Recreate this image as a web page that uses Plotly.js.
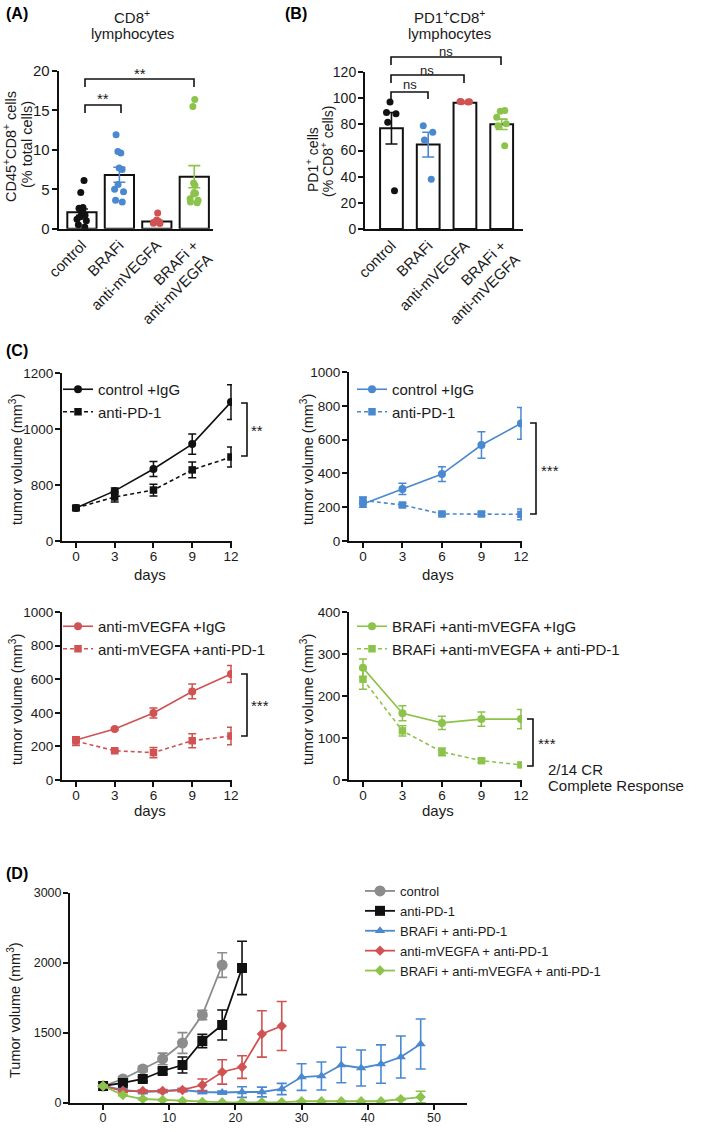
<!DOCTYPE html>
<html>
<head>
<meta charset="utf-8">
<script src="https://cdn.plot.ly/plotly-3.0.1.min.js"></script>
<style>html,body{margin:0;padding:0;background:#fff;}#chart{width:709px;height:1132px;}</style>
</head>
<body>
<div id="chart"></div>
<script>
// ---------------- DATA ----------------
// Panels A & B (bar = mean, error = SEM, dots = individual mice)
const catsAB = ['control', 'BRAFi', 'anti-mVEGFA', 'BRAFi +<br>anti-mVEGFA'];
const aMean  = [2.1, 6.8, 0.9, 6.6];
const aErrUp = [0.4, 1.0, 0.15, 1.4];
const aErrDn = [0.4, 0.9, 0.15, 1.4];
const aCtrl  = [6.1, 4.6, 2.7, 2.6, 2.3, 2.1, 1.9, 1.7, 1.5, 1.2, 1.0, 0.5, 0.2];
const aBRAFi = [11.9, 9.8, 9.6, 7.7, 7.5, 5.6, 5.0, 4.7, 3.6, 3.4];
const aVEGF  = [2.0, 1.1, 0.95, 0.9, 0.8, 0.8, 0.7, 0.65];
const aCombo = [16.4, 15.5, 5.8, 5.5, 4.6, 4.5, 4.4, 3.8, 3.6, 3.4, 3.3];

const bMean  = [77, 64.5, 96.5, 80];
const bErr   = [12, 9.5, 0.6, 4];
const bCtrl  = [97, 89, 88, 81.5, 29.3];
const bBRAFi = [79, 74, 68, 38];
const bVEGF  = [97.5, 97.3, 97.2, 97];
const bCombo = [90.5, 90, 85.5, 80.5, 79, 63.7];

// Panel C (tumor volume, mm3) ; top-left uses a broken axis (ticks 0 | 800 1000 1200)
const cDays = [0, 3, 6, 9, 12];
const c1IgG = [718, 779, 857, 946, 1096];  const c1IgGErr = [6, 10, 27, 36, 62];
const c1PD1 = [718, 757, 782, 854, 900];   const c1PD1Err = [6, 18, 21, 28, 36];
const c2IgG = [219, 308, 396, 568, 696];   const c2IgGErr = [20, 33, 44, 79, 94];
const c2PD1 = [240, 213, 160, 160, 158];   const c2PD1Err = [20, 10, 8, 10, 32];
const c3IgG = [238, 303, 399, 527, 631];   const c3IgGErr = [12, 6, 30, 44, 51];
const c3PD1 = [232, 174, 163, 234, 262];   const c3PD1Err = [26, 8, 30, 42, 52];
const c4IgG = [267, 159, 136, 145, 145];   const c4IgGErr = [21, 18, 16, 17, 23];
const c4PD1 = [240, 117, 67, 46, 36];      const c4PD1Err = [24, 12, 9, 4, 3];
const c1Ticks = ['0', '800', '1000', '1200'];

// Panel D (broken y axis: ticks 0 | 1500 2000 3000 equally spaced)
const dTickText = ['0', '1500', '2000', '3000'];
const dCtrlDays = [0, 3, 6, 9, 12, 15, 18];
const dCtrl     = [243, 343, 486, 629, 857, 1257, 1971];
const dCtrlErr  = [20, 30, 40, 83, 148, 67, 176];
const dPD1Days  = [0, 3, 6, 9, 12, 15, 18, 21];
const dPD1      = [243, 286, 343, 457, 543, 886, 1114, 1929];
const dPD1Err   = [20, 30, 30, 40, 114, 95, 214, 381];
const dBrafDays = [0, 3, 6, 9, 12, 15, 18, 21, 24, 27, 30, 33, 36, 39, 42, 45, 48];
const dBraf     = [243, 186, 157, 171, 186, 157, 150, 157, 157, 200, 371, 386, 543, 500, 557, 657, 843];
const dBrafErr  = [15, 20, 20, 20, 20, 20, 20, 76, 70, 80, 190, 200, 254, 257, 274, 300, 357];
const dVegfDays = [0, 3, 6, 9, 12, 15, 18, 21, 24, 27];
const dVegf     = [243, 171, 171, 171, 186, 257, 443, 514, 986, 1100];
const dVegfErr  = [15, 15, 15, 15, 20, 86, 174, 162, 331, 350];
const dComboDays= [0, 3, 6, 9, 12, 15, 18, 21, 24, 27, 30, 33, 36, 39, 42, 45, 48];
const dCombo    = [243, 114, 57, 43, 29, 14, 10, 10, 10, 10, 25, 25, 25, 25, 25, 55, 85];
const dComboErr = [15, 10, 10, 8, 5, 5, 5, 5, 5, 5, 5, 5, 5, 5, 5, 10, 83];

// ---------------- STYLE ----------------
const W = 709, H = 1132;
const FONT = 'Liberation Sans, Arial, sans-serif';
const TXT = '#1a1a1a';
const BLACK = '#111111', BLUE = '#4a88cf', RED = '#d05252', GREEN = '#8cc34a', GREY = '#8c8c8c';
const px = v => v / W;
const py = v => 1 - v / H;

const traces = [];

// ---- A & B ----
function barPanel(means, up, dn, groups, xa, ya, width) {
  const cols = [BLACK, BLUE, RED, GREEN];
  means.forEach((m, i) => {
    traces.push({
      type: 'bar', x: [catsAB[i]], y: [m], xaxis: xa, yaxis: ya, width: width, showlegend: false,
      marker: {color: 'white', line: {color: BLACK, width: 2}},
      error_y: {type: 'data', symmetric: false, array: [up[i]], arrayminus: [dn[i]],
                color: cols[i], thickness: 1.6, width: 6}
    });
  });
  groups.forEach((g, i) => {
    traces.push({
      type: 'box', x: g.map(() => catsAB[i]), y: g, xaxis: xa, yaxis: ya, showlegend: false,
      boxpoints: 'all', jitter: 0.65, pointpos: 0,
      fillcolor: 'rgba(0,0,0,0)', line: {width: 0, color: 'rgba(0,0,0,0)'},
      marker: {color: cols[i], size: 7}
    });
  });
}
barPanel(aMean, aErrUp, aErrDn, [aCtrl, aBRAFi, aVEGF, aCombo], 'x', 'y', 0.78);
barPanel(bMean, bErr, bErr, [bCtrl, bBRAFi, bVEGF, bCombo], 'x2', 'y2', 0.62);

// ---- C ----
function cTrace(x, y, err, color, symbol, dash, name, xa, ya, leg, msize) {
  return {
    type: 'scatter', mode: 'lines+markers', x: x, y: y, name: name, xaxis: xa, yaxis: ya, legend: leg,
    line: {color: color, width: 1.6, dash: dash},
    marker: {color: color, symbol: symbol, size: msize},
    error_y: {type: 'data', array: err, visible: true, color: color, thickness: 1.5, width: 4}
  };
}
traces.push(cTrace(cDays, c1IgG, c1IgGErr, BLACK, 'circle', 'solid', 'control +IgG', 'x3', 'y3', 'legend', 8));
traces.push(cTrace(cDays, c1PD1, c1PD1Err, BLACK, 'square', '4px,3px', 'anti-PD-1', 'x3', 'y3', 'legend', 7.5));
traces.push(cTrace(cDays, c2IgG, c2IgGErr, BLUE, 'circle', 'solid', 'control +IgG', 'x4', 'y4', 'legend2', 8));
traces.push(cTrace(cDays, c2PD1, c2PD1Err, BLUE, 'square', '4px,3px', 'anti-PD-1', 'x4', 'y4', 'legend2', 7.5));
traces.push(cTrace(cDays, c3IgG, c3IgGErr, RED, 'circle', 'solid', 'anti-mVEGFA +IgG', 'x5', 'y5', 'legend3', 8));
traces.push(cTrace(cDays, c3PD1, c3PD1Err, RED, 'square', '4px,3px', 'anti-mVEGFA +anti-PD-1', 'x5', 'y5', 'legend3', 7.5));
traces.push(cTrace(cDays, c4IgG, c4IgGErr, GREEN, 'circle', 'solid', 'BRAFi +anti-mVEGFA +IgG', 'x6', 'y6', 'legend4', 8));
traces.push(cTrace(cDays, c4PD1, c4PD1Err, GREEN, 'square', '4px,3px', 'BRAFi +anti-mVEGFA + anti-PD-1', 'x6', 'y6', 'legend4', 7.5));

// ---- D ----
function dTrace(x, y, err, color, symbol, size, name) {
  return {
    type: 'scatter', mode: 'lines+markers', x: x, y: y, name: name, xaxis: 'x7', yaxis: 'y7', legend: 'legend5',
    line: {color: color, width: 1.8}, marker: {color: color, symbol: symbol, size: size},
    error_y: {type: 'data', array: err, visible: true, color: color, thickness: 1.6, width: 5}
  };
}
traces.push(dTrace(dCtrlDays, dCtrl, dCtrlErr, GREY, 'circle', 11, 'control'));
traces.push(dTrace(dPD1Days, dPD1, dPD1Err, BLACK, 'square', 10, 'anti-PD-1'));
traces.push(dTrace(dBrafDays, dBraf, dBrafErr, BLUE, 'triangle-up', 9, 'BRAFi + anti-PD-1'));
traces.push(dTrace(dVegfDays, dVegf, dVegfErr, RED, 'diamond', 8, 'anti-mVEGFA + anti-PD-1'));
traces.push(dTrace(dComboDays, dCombo, dComboErr, GREEN, 'diamond', 8, 'BRAFi + anti-mVEGFA + anti-PD-1'));

// ---------------- LAYOUT ----------------
const axBase = {
  showline: true, linecolor: BLACK, linewidth: 2, showgrid: false, zeroline: false,
  ticks: 'outside', ticklen: 5, tickwidth: 2, tickcolor: BLACK,
  tickfont: {family: FONT, size: 13.5, color: TXT}, fixedrange: true
};
function xAx(l, r, range, anchor, extra) {
  return Object.assign({}, axBase, {domain: [px(l), px(r)], range: range, anchor: anchor, ticklabelstandoff: -3}, extra || {});
}
function yAx(b, t, range, anchor, extra) {
  return Object.assign({}, axBase, {domain: [py(b), py(t)], range: range, anchor: anchor, ticklabelstandoff: -1}, extra || {});
}
const catX = {type: 'category', categoryorder: 'array', categoryarray: catsAB, ticks: '', tickangle: -45,
              ticklabelstandoff: 0, tickfont: {family: FONT, size: 15, color: TXT}};

const legBase = {bgcolor: 'rgba(0,0,0,0)', borderwidth: 0, xanchor: 'left', yanchor: 'top',
                 itemwidth: 30, tracegroupgap: 0, font: {family: FONT, size: 15, color: TXT}};

const ann = [];
function txt(x, y, text, o) {
  ann.push(Object.assign({xref: 'paper', yref: 'paper', x: px(x), y: py(y), text: text, showarrow: false,
    xanchor: 'center', yanchor: 'middle', font: {family: FONT, size: 15, color: TXT}}, o || {}));
}
const bold = {font: {family: FONT, size: 16, color: '#000', weight: 'bold'}, xanchor: 'left'};
txt(4, 14, '<b>(A)</b>', bold);
txt(283, 14, '<b>(B)</b>', bold);
txt(4, 350, '<b>(C)</b>', bold);
txt(4, 873, '<b>(D)</b>', bold);

txt(132, 17, 'CD8<sup>+</sup>');
txt(132, 34, 'lymphocytes');
txt(449, 17, 'PD1<sup>+</sup>CD8<sup>+</sup>');
txt(449, 34, 'lymphocytes');

const rot = {textangle: -90, font: {family: FONT, size: 14.5, color: TXT}};
txt(10, 147, 'CD45<sup>+</sup>CD8<sup>+</sup> cells', rot);
txt(27, 145, '(% total cells)', rot);
txt(312, 160, 'PD1<sup>+</sup> cells', {textangle: -90, font: {family: FONT, size: 14, color: TXT}});
txt(327, 152, '(% CD8<sup>+</sup> cells)', {textangle: -90, font: {family: FONT, size: 14, color: TXT}});
txt(16, 460, 'tumor volume (mm<sup>3</sup>)', rot);
txt(307, 460, 'tumor volume (mm<sup>3</sup>)', rot);
txt(16, 700, 'tumor volume (mm<sup>3</sup>)', rot);
txt(307, 700, 'tumor volume (mm<sup>3</sup>)', rot);
txt(14, 1010, 'Tumor volume (mm<sup>3</sup>)', rot);

txt(150, 574, 'days'); txt(438, 574, 'days');
txt(150, 810, 'days'); txt(438, 810, 'days');

const star = {font: {family: FONT, size: 15, color: TXT}};
txt(140, 73, '**', star);
txt(103, 99, '**', star);
const ns = {font: {family: FONT, size: 13, color: TXT}};
txt(446, 52, 'ns', ns);
txt(427, 70, 'ns', ns);
txt(410, 85, 'ns', ns);
txt(257, 430, '**', star);
txt(550, 470, '***', star);
txt(260, 705, '***', star);
txt(547, 743, '***', star);
txt(546, 770, '2/14 CR', {xanchor: 'left'});
txt(546, 785, 'Complete Response', {xanchor: 'left'});

const shapes = [];
function path(pts) {
  shapes.push({type: 'path', xref: 'paper', yref: 'paper',
    path: 'M' + pts.map(p => px(p[0]) + ',' + py(p[1])).join(' L'), line: {color: BLACK, width: 1.6}});
}
// A brackets
path([[85, 87], [85, 79], [194, 79], [194, 87]]);
path([[85, 113], [85, 105], [121, 105], [121, 113]]);
// B brackets
path([[391, 65], [391, 57], [501, 57], [501, 65]]);
path([[391, 83], [391, 75], [464, 75], [464, 83]]);
path([[391, 99], [391, 92], [428, 92], [428, 99]]);
// C brackets
path([[241, 403], [247, 403], [247, 456], [241, 456]]);
path([[530, 423], [536, 423], [536, 514], [530, 514]]);
path([[241, 674], [247, 674], [247, 736], [241, 736]]);
path([[527, 719], [533, 719], [533, 766], [527, 766]]);

const layout = {
  width: W, height: H, margin: {l: 0, r: 0, t: 0, b: 0}, paper_bgcolor: 'white', plot_bgcolor: 'rgba(0,0,0,0)',
  barmode: 'overlay', boxmode: 'overlay', font: {family: FONT, color: TXT},
  xaxis:  xAx(58.7, 213, [-0.62, 3.5], 'y', catX),
  yaxis:  yAx(228.7, 71, [0, 20], 'x', {tickvals: [0, 5, 10, 15, 20], tickfont: {family: FONT, size: 15, color: TXT}}),
  xaxis2: xAx(365, 523, [-0.72, 3.58], 'y2', catX),
  yaxis2: yAx(229, 72, [0, 120], 'x2', {tickvals: [0, 20, 40, 60, 80, 100, 120], tickfont: {family: FONT, size: 14, color: TXT}}),
  xaxis3: xAx(62, 232, [-1.08, 12.08], 'y3', {tickvals: cDays}),
  yaxis3: yAx(541, 373, [600, 1200], 'x3', {tickvals: [600, 800, 1000, 1200], ticktext: c1Ticks}),
  xaxis4: xAx(349, 522, [-1.06, 12.08], 'y4', {tickvals: cDays}),
  yaxis4: yAx(541, 372, [0, 1000], 'x4', {tickvals: [0, 200, 400, 600, 800, 1000]}),
  xaxis5: xAx(62, 232, [-1.08, 12.08], 'y5', {tickvals: cDays}),
  yaxis5: yAx(780, 612, [0, 1000], 'x5', {tickvals: [0, 200, 400, 600, 800, 1000]}),
  xaxis6: xAx(349, 522, [-1.06, 12.08], 'y6', {tickvals: cDays}),
  yaxis6: yAx(780, 612, [0, 400], 'x6', {tickvals: [0, 100, 200, 300, 400]}),
  xaxis7: xAx(70, 467, [-5, 55], 'y7', {tickvals: [0, 10, 20, 30, 40, 50], tickfont: {family: FONT, size: 12.5, color: TXT}}),
  yaxis7: yAx(1103, 893, [0, 3000], 'x7', {tickvals: [0, 1000, 2000, 3000], ticktext: dTickText, tickfont: {family: FONT, size: 12.5, color: TXT}}),
  legend:  Object.assign({}, legBase, {x: px(58), y: py(373)}),
  legend2: Object.assign({}, legBase, {x: px(352), y: py(373)}),
  legend3: Object.assign({}, legBase, {x: px(58), y: py(610)}),
  legend4: Object.assign({}, legBase, {x: px(352), y: py(610)}),
  legend5: Object.assign({}, legBase, {x: px(360), y: py(876), font: {family: FONT, size: 13, color: TXT}}),
  annotations: ann,
  shapes: shapes
};

Plotly.newPlot('chart', traces, layout, {displayModeBar: false, staticPlot: true});
</script>
</body>
</html>
